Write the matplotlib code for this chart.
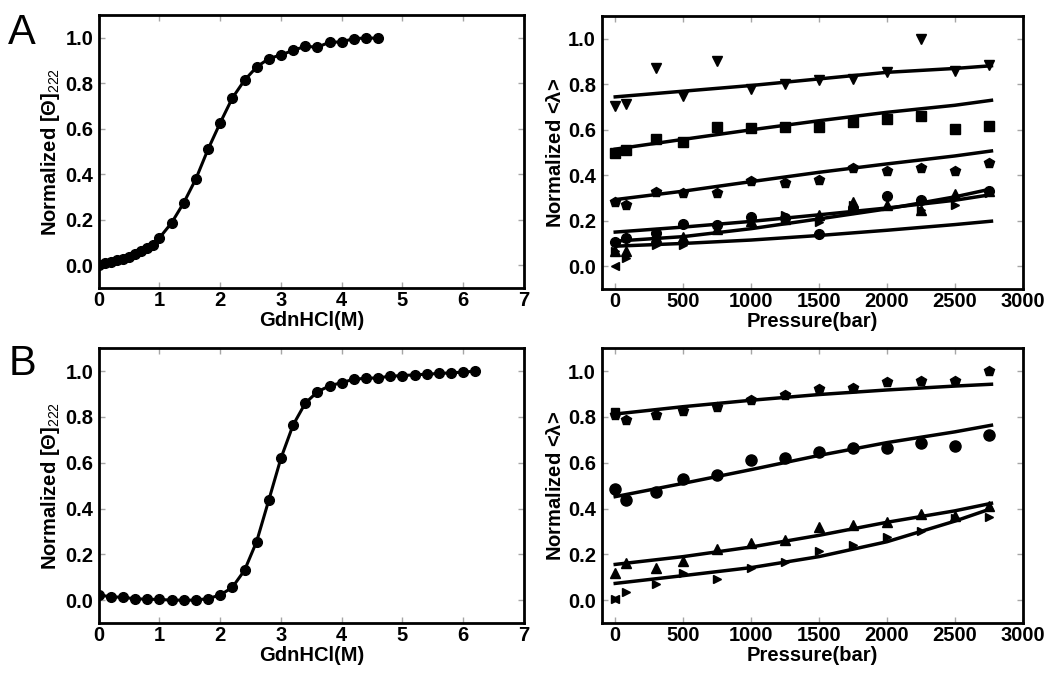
import matplotlib
matplotlib.use("Agg")
import matplotlib.pyplot as plt
import numpy as np

plt.rcParams['font.family'] = ['Liberation Sans', 'DejaVu Sans']
plt.rcParams['mathtext.fontset'] = 'custom'
plt.rcParams['mathtext.rm'] = 'Liberation Sans'
plt.rcParams['mathtext.it'] = 'Liberation Sans:italic'
plt.rcParams['mathtext.bf'] = 'Liberation Sans:bold'

# ---- panel A, left: GdnHCl denaturation ----
gdn_a = [0.0, 0.1, 0.2, 0.3, 0.4, 0.5, 0.6, 0.7, 0.8, 0.9,
         1.0, 1.2, 1.4, 1.6, 1.8, 2.0, 2.2, 2.4, 2.6, 2.8,
         3.0, 3.2, 3.4, 3.6, 3.8, 4.0, 4.2, 4.4, 4.6]
theta_a = [0.004, 0.009, 0.016, 0.026, 0.029, 0.037, 0.051, 0.063, 0.075, 0.091,
           0.121, 0.187, 0.275, 0.380, 0.510, 0.626, 0.735, 0.813, 0.871, 0.908,
           0.924, 0.944, 0.962, 0.958, 0.980, 0.981, 0.996, 0.998, 0.998]

# ---- panel B, left ----
gdn_b = [0.0, 0.2, 0.4, 0.6, 0.8, 1.0, 1.2, 1.4, 1.6, 1.8, 2.0,
         2.2, 2.4, 2.6, 2.8, 3.0, 3.2, 3.4, 3.6, 3.8, 4.0,
         4.2, 4.4, 4.6, 4.8, 5.0, 5.2, 5.4, 5.6, 5.8, 6.0, 6.2]
theta_b = [0.022, 0.015, 0.012, 0.006, 0.004, 0.003, 0.0, 0.0, 0.0, 0.007, 0.022,
           0.056, 0.130, 0.256, 0.437, 0.620, 0.765, 0.860, 0.910, 0.936, 0.950,
           0.965, 0.969, 0.971, 0.978, 0.981, 0.984, 0.987, 0.990, 0.993, 0.996, 1.0]

# ---- pressure data ----
pressure = [0, 80, 300, 500, 750, 1000, 1250, 1500, 1750, 2000, 2250, 2500, 2750]
fit_p = [0, 500, 1000, 1500, 2000, 2500, 2770]
nan = np.nan

# panel A, right
a_down = [0.704, 0.714, 0.872, 0.751, 0.901, 0.780, 0.803, 0.818, 0.825, 0.854, 1.0, 0.860, 0.886]
a_square = [0.497, 0.510, 0.558, 0.547, 0.614, 0.609, 0.614, 0.614, 0.634, 0.646, 0.660, 0.605, 0.617]
a_penta = [0.284, 0.270, 0.325, 0.322, 0.322, 0.377, 0.366, 0.378, 0.430, 0.417, 0.430, 0.417, 0.456]
a_circle = [0.107, 0.124, 0.146, 0.184, 0.180, 0.215, 0.212, 0.140, 0.252, 0.308, 0.293, nan, 0.332]
a_up = [0.067, 0.067, 0.130, 0.128, 0.165, 0.200, 0.208, 0.223, 0.281, 0.267, 0.245, 0.318, 0.330]
a_right = [0.067, 0.038, 0.092, 0.092, nan, nan, 0.225, 0.194, 0.267, nan, 0.245, 0.267, 0.320]
a_left_p = [0]
a_left = [0.0]

a_fit_down = [0.745, 0.770, 0.795, 0.824, 0.853, 0.870, 0.882]
a_fit_square = [0.515, 0.558, 0.600, 0.640, 0.677, 0.708, 0.730]
a_fit_penta = [0.293, 0.330, 0.372, 0.413, 0.450, 0.485, 0.507]
a_fit_1 = [0.150, 0.172, 0.197, 0.226, 0.256, 0.290, 0.315]
a_fit_2 = [0.110, 0.130, 0.165, 0.208, 0.252, 0.305, 0.340]
a_fit_3 = [0.088, 0.100, 0.115, 0.135, 0.158, 0.183, 0.198]

# panel B, right
b_penta = [0.810, 0.787, 0.810, 0.828, 0.845, 0.876, 0.896, 0.921, 0.925, 0.952, 0.956, 0.956, 1.0]
b_circle = [0.485, 0.438, 0.474, 0.530, 0.545, 0.613, 0.620, 0.647, 0.663, 0.663, 0.685, 0.674, 0.721]
b_up = [0.117, 0.161, 0.142, 0.172, 0.225, 0.251, 0.263, 0.318, 0.330, 0.343, 0.376, 0.368, 0.409]
b_right = [0.003, 0.036, 0.070, 0.117, 0.093, 0.139, 0.168, 0.216, 0.241, 0.277, 0.302, 0.358, 0.362]
b_extra_square = [0.820]
b_extra_left = [0.003]

b_fit_penta = [0.813, 0.845, 0.873, 0.898, 0.918, 0.935, 0.943]
b_fit_circle = [0.452, 0.510, 0.570, 0.632, 0.688, 0.735, 0.764]
b_fit_up = [0.156, 0.190, 0.232, 0.283, 0.340, 0.390, 0.423]
b_fit_right = [0.073, 0.107, 0.142, 0.190, 0.255, 0.345, 0.400]

FS = 14.5


def style(ax):
    for s in ax.spines.values():
        s.set_linewidth(2)
    ax.tick_params(direction='in', top=True, right=True, color='0.65',
                   length=4, width=1, labelsize=FS)
    ax.tick_params(axis='x', pad=2)
    ax.tick_params(axis='y', pad=4)
    ax.set_ylim(-0.1, 1.1)
    ax.set_yticks([0.0, 0.2, 0.4, 0.6, 0.8, 1.0])
    ax.set_yticklabels(['0.0', '0.2', '0.4', '0.6', '0.8', '1.0'], fontweight='bold')


def gdn_panel(ax, x, y):
    ax.plot(x, y, '-', color='black', lw=2.2)
    ax.plot(x, y, 'o', color='black', ms=7)
    ax.set_xlim(0, 7)
    ax.set_xticks(range(8))
    ax.set_xticklabels([str(i) for i in range(8)], fontweight='bold')
    style(ax)
    ax.set_xlabel('GdnHCl(M)', fontsize=FS, fontweight='bold', labelpad=1)
    ax.set_ylabel(r'Normalized [$\mathbf{\Theta}$]$_{222}$', fontsize=FS,
                  fontweight='bold', labelpad=2)


def pressure_panel(ax):
    ax.set_xlim(-100, 3000)
    ticks = [0, 500, 1000, 1500, 2000, 2500, 3000]
    ax.set_xticks(ticks)
    ax.set_xticklabels([str(t) for t in ticks], fontweight='bold')
    style(ax)
    ax.set_xlabel('Pressure(bar)', fontsize=FS, fontweight='bold', labelpad=1)
    ax.set_ylabel(r'Normalized <$\mathbf{\lambda}$>', fontsize=FS,
                  fontweight='bold', labelpad=2)


fig = plt.figure(figsize=(10.5, 6.75), dpi=100)
ax1 = fig.add_axes([0.094, 0.573, 0.405, 0.405])
ax2 = fig.add_axes([0.573, 0.572, 0.401, 0.404])
ax3 = fig.add_axes([0.094, 0.077, 0.405, 0.407])
ax4 = fig.add_axes([0.573, 0.077, 0.401, 0.407])

gdn_panel(ax1, gdn_a, theta_a)
gdn_panel(ax3, gdn_b, theta_b)

# top right
for fit in [a_fit_down, a_fit_square, a_fit_penta, a_fit_1, a_fit_2, a_fit_3]:
    ax2.plot(fit_p, fit, '-', color='black', lw=2.5)
for vals, m, ms in [(a_down, 'v', 7), (a_square, 's', 7), (a_penta, 'p', 7),
                    (a_circle, 'o', 7), (a_up, '^', 7), (a_right, '>', 6)]:
    ax2.plot(pressure, vals, m, color='black', ms=ms, ls='none')
ax2.plot(a_left_p, a_left, '<', color='black', ms=6, ls='none')
pressure_panel(ax2)

# bottom right
for fit in [b_fit_penta, b_fit_circle, b_fit_up, b_fit_right]:
    ax4.plot(fit_p, fit, '-', color='black', lw=2.5)
for vals, m, ms in [(b_penta, 'p', 7), (b_circle, 'o', 8), (b_up, '^', 7), (b_right, '>', 6)]:
    ax4.plot(pressure, vals, m, color='black', ms=ms, ls='none')
ax4.plot([0], b_extra_square, 's', color='black', ms=6, ls='none')
ax4.plot([0], b_extra_left, '<', color='black', ms=6, ls='none')
pressure_panel(ax4)

fig.text(0.008, 0.935, 'A', fontsize=30)
fig.text(0.008, 0.445, 'B', fontsize=30)

fig.savefig('out.png', dpi=100)
